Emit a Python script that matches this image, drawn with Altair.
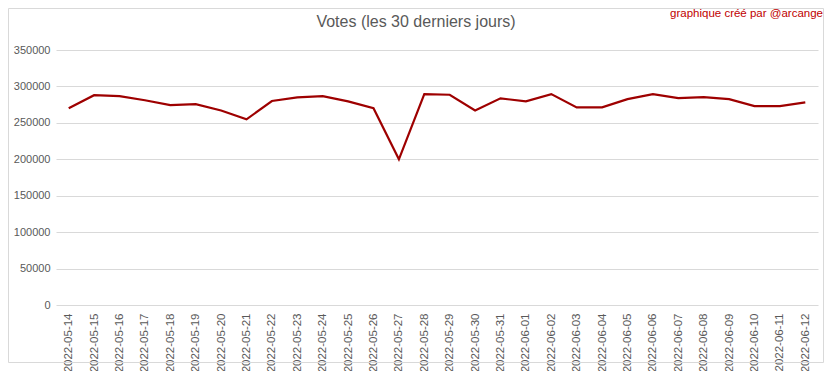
import altair as alt
import pandas as pd

dates = ["2022-05-14","2022-05-15","2022-05-16","2022-05-17","2022-05-18","2022-05-19",
         "2022-05-20","2022-05-21","2022-05-22","2022-05-23","2022-05-24","2022-05-25",
         "2022-05-26","2022-05-27","2022-05-28","2022-05-29","2022-05-30","2022-05-31",
         "2022-06-01","2022-06-02","2022-06-03","2022-06-04","2022-06-05","2022-06-06",
         "2022-06-07","2022-06-08","2022-06-09","2022-06-10","2022-06-11","2022-06-12"]
votes = [270000, 288000, 286700, 281000, 274400, 275800, 267000, 254800, 280000, 285000,
         286700, 279500, 270000, 200000, 289500, 288600, 267000, 283600, 279500, 289500,
         271200, 271200, 282600, 289500, 284000, 285400, 282600, 273000, 273000, 278000]
y_ticks = [0, 50000, 100000, 150000, 200000, 250000, 300000, 350000]

title_text = "Votes (les 30 derniers jours)"
credit_text = "graphique créé par @arcange"

df = pd.DataFrame({"date": dates, "votes": votes})

FONT = "Liberation Sans"

line = alt.Chart(df).mark_line(color="#9e0000", strokeWidth=2.2).encode(
    x=alt.X("date:O", sort=None, scale=alt.Scale(padding=0.5),
            axis=alt.Axis(title=None, labelAngle=-90, labelPadding=8, ticks=False,
                          domain=False, grid=False,
                          labelFont=FONT, labelFontSize=11.5, labelColor="#595959")),
    y=alt.Y("votes:Q", scale=alt.Scale(domain=[0, 350000], nice=False),
            axis=alt.Axis(title=None, values=y_ticks, format="d", ticks=False,
                          domain=False, grid=True, gridColor="#d9d9d9",
                          labelPadding=6, labelFont=FONT, labelFontSize=11,
                          labelColor="#595959")),
)

tdf = pd.DataFrame({"t": [title_text]})
title = alt.Chart(tdf).mark_text(font=FONT, fontSize=16, color="#595959",
                                 baseline="middle", align="center").encode(
    text="t:N", x=alt.value(360), y=alt.value(-28))

cdf = pd.DataFrame({"t": [credit_text]})
credit = alt.Chart(cdf).mark_text(font=FONT, fontSize=11.5, color="#c00000",
                                  baseline="middle", align="right").encode(
    text="t:N", x=alt.value(767), y=alt.value(-36))

border = alt.Chart(tdf).mark_rect(fill=None, stroke="#d9d9d9", strokeWidth=1).encode(
    x=alt.value(-47.5), x2=alt.value(767.5), y=alt.value(-41.5), y2=alt.value(312.5))

chart = alt.layer(line, title, credit, border).properties(
    width=762, height=255,
    padding={"left": 48, "top": 42, "right": 6, "bottom": 66},
    autosize=alt.AutoSizeParams(type="none"),
    background="white",
).configure_view(strokeWidth=0, stroke="transparent").configure_axisY(domain=False)

chart.save("out.html", embed_options={"renderer": "svg", "actions": False})
